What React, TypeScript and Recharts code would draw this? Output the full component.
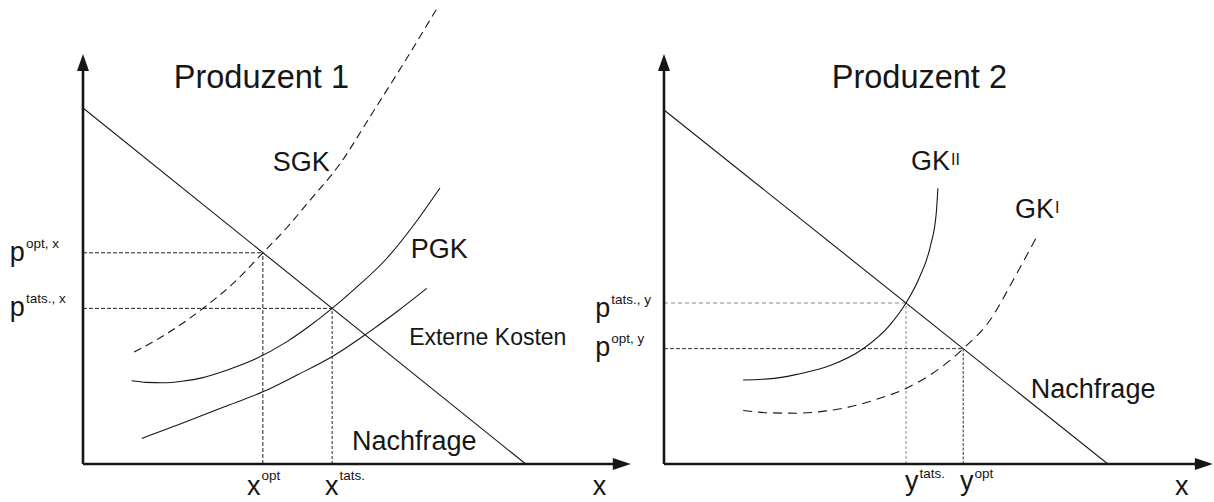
import { LineChart, Line, XAxis, YAxis, ReferenceLine, ReferenceDot } from 'recharts'

const FONT = '"Liberation Sans", Arial, Helvetica, sans-serif'
const INK = '#161616'

// Produzent 1 (menge 0..100, preis 0..116)
const demand1 = [[0, 89], [80.5, 0]]
const sgk = [[9.3, 28], [15.5, 32.8], [21.9, 39], [27.5, 45.4], [32.7, 52.8], [37, 59], [41, 65.5], [46.7, 75], [52.5, 87.5], [58.9, 101.5], [64.4, 114]]
const pgk = [[8.85, 20.8], [11.5, 20.4], [14.5, 20.3], [18, 20.7], [21.8, 21.6], [26, 23.4], [30.9, 26], [37.1, 30.6], [41, 34.3], [45.3, 38.9], [49.1, 43.4], [55.3, 51.5], [60, 59.5], [64.9, 69]]
const externeKosten = [[10.7, 6.4], [18.85, 10.6], [25.5, 14.2], [32.8, 18.1], [39, 22.3], [45.5, 27], [51.6, 32.6], [57, 38], [62.5, 43.9]]
const opt1 = { x: 32.7, p: 52.8 }
const tats1 = { x: 45.3, p: 38.9 }

// Produzent 2
const demand2 = [[0, 88.5], [80.7, 0]]
const gkII = [[14.4, 21], [20, 21.4], [24.1, 22.4], [30.2, 24.6], [36.2, 28.8], [41.1, 34.8], [44, 40.25], [46.5, 46.8], [48.4, 54.3], [49.5, 62.7], [49.8, 68.9]]
const gkI = [[14.4, 13.4], [19, 12.8], [24.1, 12.7], [28.5, 13.1], [33.2, 14.1], [38.5, 16.1], [44, 18.9], [50.8, 24.6], [54.4, 28.84], [59.3, 36], [63.5, 46], [67.6, 56.4]]
const tats2 = { x: 44, p: 40.25 }
const opt2 = { x: 54.4, p: 28.84 }

const rows = (a: number[][]) => a.map(([x, y]) => ({ x, y }))

const ArrowUp = (p: any) => (
  <polygon points={`${p.cx},${p.cy} ${p.cx - 6},${p.cy + 17} ${p.cx + 6},${p.cy + 17}`} fill={INK} />
)
const ArrowRight = (p: any) => (
  <polygon points={`${p.cx},${p.cy} ${p.cx - 18},${p.cy - 6} ${p.cx - 18},${p.cy + 6}`} fill={INK} />
)

const txt = (s: string, size = 27, sup?: string, supSize = 13.5, rise = 14) => (p: any) => (
  <text x={p.cx} y={p.cy} fontSize={size} fontFamily={FONT} fill={INK}>
    {s}
    {sup && <tspan fontSize={supSize} dy={-rise} dx={1}>{sup}</tspan>}
  </text>
)

const lineProps = { type: 'monotone' as const, dataKey: 'y', dot: false, isAnimationActive: false, stroke: INK, strokeWidth: 1.1 }

function Label({ x, y, render }: any) {
  return <ReferenceDot x={x} y={y} r={0} ifOverflow="visible" shape={render} />
}

export default function App() {
  return (
    <div style={{ position: 'absolute', left: 0, top: 0, width: 1214, height: 502, background: '#fff' }}>
      <div style={{ position: 'absolute', left: 0, top: 0 }}>
        <LineChart width={640} height={502} margin={{ top: 0, right: 7, bottom: 38, left: 83 }}>
          <XAxis type="number" dataKey="x" domain={[0, 100]} allowDataOverflow hide />
          <YAxis type="number" dataKey="y" domain={[0, 116]} allowDataOverflow hide />

          <ReferenceLine segment={[{ x: 0, y: opt1.p }, { x: opt1.x, y: opt1.p }]} stroke="#222" strokeDasharray="4 2" />
          <ReferenceLine segment={[{ x: opt1.x, y: 0 }, { x: opt1.x, y: opt1.p }]} stroke="#222" strokeDasharray="4 2" />
          <ReferenceLine segment={[{ x: 0, y: tats1.p }, { x: tats1.x, y: tats1.p }]} stroke="#222" strokeDasharray="4 2" />
          <ReferenceLine segment={[{ x: tats1.x, y: 0 }, { x: tats1.x, y: tats1.p }]} stroke="#222" strokeDasharray="3 2" />

          <Line data={rows(demand1)} {...lineProps} type="linear" />
          <Line data={rows(sgk)} {...lineProps} strokeDasharray="8 5" />
          <Line data={rows(pgk)} {...lineProps} />
          <Line data={rows(externeKosten)} {...lineProps} />

          <ReferenceLine segment={[{ x: 0, y: 0 }, { x: 0, y: 99 }]} stroke={INK} strokeWidth={2.6} ifOverflow="visible" />
          <ReferenceLine segment={[{ x: 0, y: 0 }, { x: 97, y: 0 }]} stroke={INK} strokeWidth={2.6} ifOverflow="visible" />
          <ReferenceDot x={0} y={102.5} r={0} ifOverflow="visible" shape={ArrowUp} />
          <ReferenceDot x={99.6} y={0} r={0} ifOverflow="visible" shape={ArrowRight} />

          {Label({ x: 16.5, y: 94, render: txt('Produzent 1', 32.5) })}
          {Label({ x: 34.5, y: 73.25, render: txt('SGK') })}
          {Label({ x: 59.6, y: 51.5, render: txt('PGK') })}
          {Label({ x: 59.3, y: 29.75, render: txt('Externe Kosten', 23) })}
          {Label({ x: 48.9, y: 3.5, render: txt('Nachfrage') })}
          {Label({ x: -13.3, y: 50.75, render: txt('p', 27, 'opt, x', 13.5, 13) })}
          {Label({ x: -13.3, y: 37, render: txt('p', 27, 'tats., x', 13.5, 13) })}
          {Label({ x: 29.8, y: -7.75, render: txt('x', 27, 'opt', 13.5, 15) })}
          {Label({ x: 44, y: -7.75, render: txt('x', 27, 'tats.', 13.5, 15) })}
          {Label({ x: 92.7, y: -7.75, render: txt('x') })}
        </LineChart>
      </div>

      <div style={{ position: 'absolute', left: 560, top: 0 }}>
        <LineChart width={654} height={502} margin={{ top: 0, right: 0, bottom: 38, left: 104 }}>
          <XAxis type="number" dataKey="x" domain={[0, 100]} allowDataOverflow hide />
          <YAxis type="number" dataKey="y" domain={[0, 116]} allowDataOverflow hide />

          <ReferenceLine segment={[{ x: 0, y: tats2.p }, { x: tats2.x, y: tats2.p }]} stroke="#8a8a8a" strokeDasharray="4 3" />
          <ReferenceLine segment={[{ x: tats2.x, y: 0 }, { x: tats2.x, y: tats2.p }]} stroke="#8a8a8a" strokeDasharray="3 2" />
          <ReferenceLine segment={[{ x: 0, y: opt2.p }, { x: opt2.x, y: opt2.p }]} stroke="#333" strokeDasharray="4 2" />
          <ReferenceLine segment={[{ x: opt2.x, y: 0 }, { x: opt2.x, y: opt2.p }]} stroke="#333" strokeDasharray="3 1.5" />

          <Line data={rows(demand2)} {...lineProps} type="linear" />
          <Line data={rows(gkII)} {...lineProps} />
          <Line data={rows(gkI)} {...lineProps} strokeDasharray="9 6" />

          <ReferenceLine segment={[{ x: 0, y: 0 }, { x: 0, y: 99 }]} stroke={INK} strokeWidth={2.6} ifOverflow="visible" />
          <ReferenceLine segment={[{ x: 0, y: 0 }, { x: 97, y: 0 }]} stroke={INK} strokeWidth={2.6} ifOverflow="visible" />
          <ReferenceDot x={0} y={102.5} r={0} ifOverflow="visible" shape={ArrowUp} />
          <ReferenceDot x={99.8} y={0} r={0} ifOverflow="visible" shape={ArrowRight} />

          {Label({ x: 30.5, y: 94, render: txt('Produzent 2', 32.5) })}
          {Label({ x: 44.9, y: 73.5, render: txt('GK', 27, 'II', 16, 5) })}
          {Label({ x: 63.8, y: 61.5, render: txt('GK', 27, 'I', 16, 5) })}
          {Label({ x: 66.7, y: 16.5, render: txt('Nachfrage') })}
          {Label({ x: -12.5, y: 36.75, render: txt('p', 27, 'tats., y', 13.5, 13) })}
          {Label({ x: -12.5, y: 27, render: txt('p', 27, 'opt, y', 13.5, 13) })}
          {Label({ x: 43.8, y: -6.5, render: txt('y', 27, 'tats.', 13.5, 12) })}
          {Label({ x: 53.8, y: -6.5, render: txt('y', 27, 'opt', 13.5, 12) })}
          {Label({ x: 92.9, y: -7.75, render: txt('x') })}
        </LineChart>
      </div>
    </div>
  )
}
